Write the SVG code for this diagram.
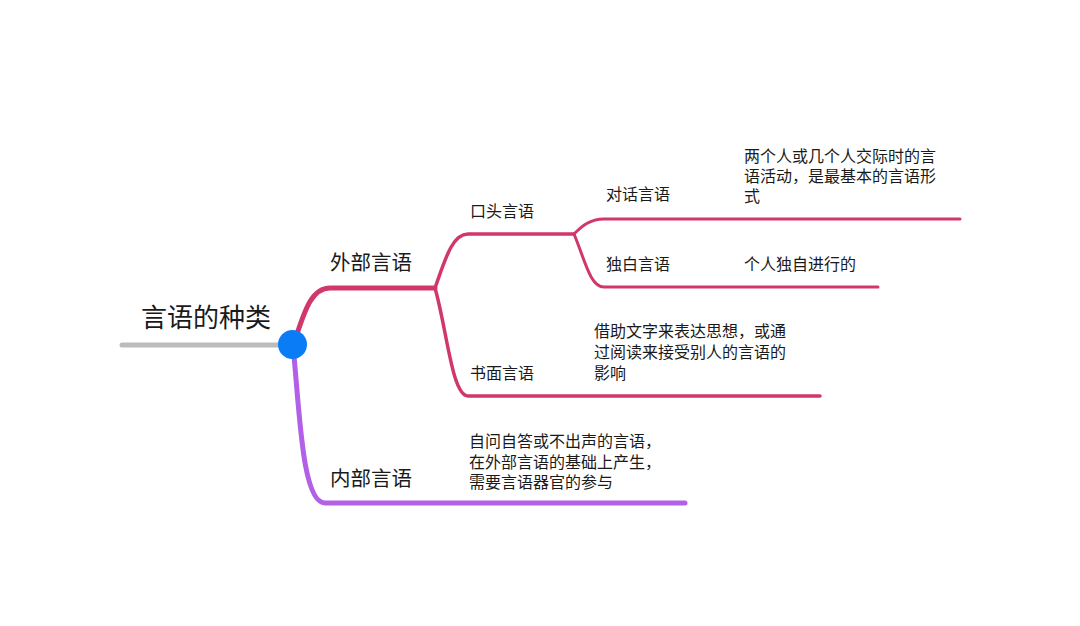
<svg xmlns="http://www.w3.org/2000/svg" width="1080" height="626" viewBox="0 0 1080 626">
<style>
text{font-family:"Liberation Sans","Noto Sans CJK SC",sans-serif;fill:#1a1a1a}
.root{font-size:26px}
.l1{font-size:20.5px}
.l2{font-size:16px}
.c{fill:none;stroke-linecap:round}
.red{stroke:#d1376b}
.pur{stroke:#b260e6}
</style>
<rect width="1080" height="626" fill="#fff"/>
<g id="connectors">
<line x1="122" y1="345" x2="285" y2="345" stroke="#bcbcbc" stroke-width="5" stroke-linecap="round"/>
<path class="c red" stroke-width="5" d="M297,334 C305,310 312,288 330,288 L435,288"/>
<path class="c pur" stroke-width="5" d="M294,356 C300,420 303,503 325,503 L685,503"/>
<path class="c red" stroke-width="3.5" d="M435,288 C445,260 452,234 468,234 L574,234"/>
<path class="c red" stroke-width="3.5" d="M435,288 C447,330 452,396 468,396 L820,396"/>
<path class="c red" stroke-width="3" d="M574,234 C582,226 590,219 604,219 L960,219"/>
<path class="c red" stroke-width="3" d="M574,234 C585,260 590,287 604,287 L878,287"/>
</g>
<g id="n-root"><text class="root" x="141" y="327">言语的种类</text><circle cx="292.5" cy="344.5" r="14.5" fill="#0a7cf5"/></g>
<g id="n-external"><text class="l1" x="330" y="270">外部言语</text></g>
<g id="n-internal"><text class="l1" x="330" y="486">内部言语</text></g>
<g id="n-oral"><text class="l2" x="470" y="217">口头言语</text></g>
<g id="n-written"><text class="l2" x="470" y="379">书面言语</text></g>
<g id="n-dialog"><text class="l2" x="606" y="200">对话言语</text></g>
<g id="n-monolog"><text class="l2" x="606" y="270">独白言语</text></g>
<g id="n-dialog-desc"><text class="l2" x="744" y="162">两个人或几个人交际时的言</text><text class="l2" x="744" y="182">语活动，是最基本的言语形</text><text class="l2" x="744" y="202">式</text></g>
<g id="n-monolog-desc"><text class="l2" x="744" y="270">个人独自进行的</text></g>
<g id="n-written-desc"><text class="l2" x="594" y="337">借助文字来表达思想，或通</text><text class="l2" x="594" y="358">过阅读来接受别人的言语的</text><text class="l2" x="594" y="379">影响</text></g>
<g id="n-internal-desc"><text class="l2" x="469" y="447">自问自答或不出声的言语，</text><text class="l2" x="469" y="468">在外部言语的基础上产生，</text><text class="l2" x="469" y="488">需要言语器官的参与</text></g>
</svg>
